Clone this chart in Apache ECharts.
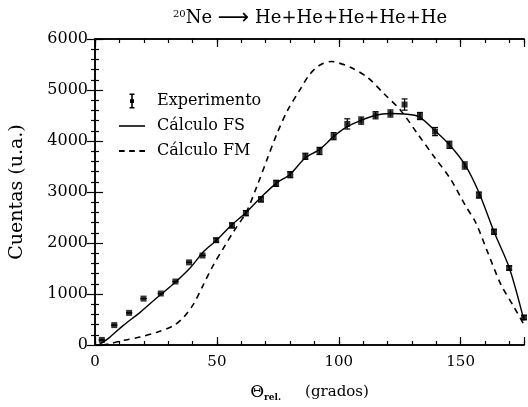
<!DOCTYPE html>
<html>
<head>
<meta charset="utf-8">
<script src="https://cdn.jsdelivr.net/npm/echarts@6/dist/echarts.min.js"></script>
<style>
  html, body { margin: 0; padding: 0; background: #fff; }
  #main { width: 528px; height: 407px; }
</style>
</head>
<body>
<div id="main"></div>
<script>
// experimental points: angle, counts, error
var expX = [2.8, 7.9, 14.0, 19.9, 27.0, 33.0, 38.6, 44.1, 49.7, 56.2, 61.9, 68.1, 74.3, 80.1, 86.3, 92.1, 97.9, 103.5, 109.2, 115.1, 121.2, 127.0, 133.3, 139.5, 145.4, 151.7, 157.5, 163.7, 169.9, 176.0];
var expY = [100, 390, 630, 910, 1010, 1245, 1620, 1755, 2055, 2345, 2585, 2855, 3170, 3340, 3700, 3805, 4095, 4335, 4400, 4505, 4540, 4715, 4490, 4185, 3925, 3520, 2940, 2220, 1510, 540];
var expErr = [0, 0, 0, 0, 0, 0, 0, 0, 40, 50, 50, 50, 60, 60, 60, 70, 70, 100, 70, 70, 70, 110, 70, 80, 70, 70, 60, 50, 40, 40];

// calculo FS (solid)
var fsX = [1.5, 6, 11.5, 18.5, 25.5, 32, 39, 44.5, 50, 55.5, 62, 68, 74.3, 80, 86.3, 92, 98, 103.5, 109, 115, 121, 127, 133, 139.5, 145.4, 151.7, 157.5, 163.7, 170, 176];
var fsY = [0, 150, 380, 640, 930, 1190, 1510, 1830, 2060, 2330, 2600, 2890, 3170, 3345, 3670, 3830, 4090, 4280, 4400, 4505, 4540, 4530, 4475, 4200, 3926, 3540, 2990, 2220, 1510, 480];

// calculo FM (dashed)
var fmX = [3, 6, 11.6, 18.5, 25.4, 32.2, 36.3, 40.4, 44.5, 48.6, 52.7, 56.8, 62, 66.5, 70.6, 74.7, 79, 84, 88, 92, 97, 100, 105, 111.7, 118.5, 125.4, 132.2, 139, 145.9, 152, 156.2, 161, 166.5, 172, 176];
var fmY = [0, 25, 90, 155, 250, 380, 540, 800, 1186, 1573, 1900, 2220, 2600, 3120, 3640, 4150, 4600, 5000, 5300, 5480, 5560, 5530, 5440, 5250, 4930, 4600, 4150, 3700, 3250, 2730, 2400, 1830, 1190, 735, 400];

var xTicks = [0, 50, 100, 150];
var yTicks = [0, 1000, 2000, 3000, 4000, 5000, 6000];

var serif = '"DejaVu Serif", "Liberation Serif", serif';

function pairs(xs, ys) {
  var out = [];
  for (var i = 0; i < xs.length; i++) out.push([xs[i], ys[i]]);
  return out;
}

var expData = [];
var errData = [];
for (var i = 0; i < expX.length; i++) {
  expData.push([expX[i], expY[i]]);
  errData.push([expX[i], expY[i] - expErr[i], expY[i] + expErr[i]]);
}

var chart = echarts.init(document.getElementById('main'));

var axisLine = { show: true, lineStyle: { color: '#000', width: 1.5 } };

function xAxisDef(pos, step, tickLen, labels) {
  return {
    type: 'value', min: 0, max: 176, interval: step, position: pos,
    axisLine: axisLine,
    axisTick: { show: true, inside: true, length: tickLen, lineStyle: { color: '#000', width: 1.2 } },
    axisLabel: {
      show: labels, margin: 10, color: '#000', fontFamily: serif, fontSize: 15,
      formatter: function (v) { return xTicks.indexOf(v) >= 0 ? String(v) : ''; }
    },
    splitLine: { show: false },
    name: labels ? '{t|Θ}{s|rel.}{g|(grados)}' : '',
    nameLocation: 'middle',
    nameGap: 38,
    nameTextStyle: {
      rich: {
        t: { fontFamily: serif, fontSize: 17, color: '#000' },
        s: { fontFamily: serif, fontSize: 9, fontWeight: 'bold', color: '#000', padding: [10, 0, 0, 0] },
        g: { fontFamily: serif, fontSize: 15, color: '#000', padding: [0, 0, 0, 24] }
      }
    }
  };
}

function yAxisDef(pos, labels) {
  return {
    type: 'value', min: 0, max: 6000, interval: 1000, position: pos,
    axisLine: axisLine,
    axisTick: { show: true, inside: true, length: 8, lineStyle: { color: '#000', width: 1.2 } },
    minorTick: { show: true, splitNumber: 5, length: 4, lineStyle: { color: '#000', width: 1.2 } },
    axisLabel: {
      show: labels, margin: 7, color: '#000', fontFamily: serif, fontSize: 16,
      formatter: function (v) { return yTicks.indexOf(v) >= 0 ? String(v) : ''; }
    },
    splitLine: { show: false },
    minorSplitLine: { show: false },
    name: labels ? 'Cuentas (u.a.)' : '',
    nameLocation: 'middle',
    nameGap: 68,
    nameTextStyle: { fontFamily: serif, fontSize: 19, color: '#000' }
  };
}

chart.setOption({
  backgroundColor: '#fff',
  animation: false,
  title: {
    text: '{sup|20}{n|Ne }{a|⟶}{n| He+He+He+He+He}',
    left: 168, top: 2,
    textStyle: {
      fontWeight: 'normal',
      rich: {
        sup: { fontFamily: serif, fontSize: 10, fontWeight: 'normal', color: '#000', padding: [0, 0, 8, 0] },
        n: { fontFamily: serif, fontSize: 18, fontWeight: 'normal', color: '#000' },
        a: { fontFamily: '"DejaVu Sans", sans-serif', fontSize: 22, fontWeight: 'normal', color: '#000' }
      }
    }
  },
  grid: { left: 95, right: 4, top: 39, bottom: 59 },
  legend: {
    orient: 'vertical', left: 114, top: 88, itemGap: 9,
    itemWidth: 26, itemHeight: 15,
    textStyle: { fontFamily: serif, fontSize: 16, color: '#000', padding: [0, 0, 0, 7] },
    data: [
      { name: 'Experimento', icon: 'path://M9,0h5v1.6h-5zM10.7,0h1.6v15h-1.6zM9,13.4h5v1.6h-5zM9.5,5.8h4v3.6h-4z' },
      { name: 'Cálculo FS', icon: 'path://M0,7h23v1.4h-23z' },
      { name: 'Cálculo FM', icon: 'path://M0,7h5v1.6h-5zM9,7h5v1.6h-5zM18,7h5v1.6h-5z' }
    ]
  },
  xAxis: [
    xAxisDef('bottom', 50, 8, true),
    xAxisDef('bottom', 10, 4, false),
    xAxisDef('top', 50, 8, false),
    xAxisDef('top', 10, 4, false)
  ],
  yAxis: [
    yAxisDef('left', true),
    yAxisDef('right', false)
  ],
  series: [
    {
      name: 'Cálculo FS', type: 'line', data: pairs(fsX, fsY),
      smooth: 0.3, symbol: 'none',
      lineStyle: { color: '#000', width: 1.4 },
      itemStyle: { color: '#000' }
    },
    {
      name: 'Cálculo FM', type: 'line', data: pairs(fmX, fmY),
      smooth: 0.3, symbol: 'none',
      lineStyle: { color: '#000', width: 1.6, type: [6, 5] },
      itemStyle: { color: '#000' }
    },
    {
      name: 'Experimento', type: 'custom', data: errData,
      encode: { x: 0, y: [1, 2] },
      itemStyle: { color: '#000' },
      renderItem: function (params, api) {
        var lo = api.coord([api.value(0), api.value(1)]);
        var hi = api.coord([api.value(0), api.value(2)]);
        var w = 3;
        var st = { stroke: '#000', lineWidth: 1.2 };
        return {
          type: 'group', children: [
            { type: 'line', shape: { x1: lo[0], y1: lo[1], x2: hi[0], y2: hi[1] }, style: st },
            { type: 'line', shape: { x1: lo[0] - w, y1: lo[1], x2: lo[0] + w, y2: lo[1] }, style: st },
            { type: 'line', shape: { x1: hi[0] - w, y1: hi[1], x2: hi[0] + w, y2: hi[1] }, style: st }
          ]
        };
      }
    },
    {
      name: 'Experimento', type: 'scatter', data: expData,
      symbol: 'rect', symbolSize: 6,
      itemStyle: { color: '#000' }
    }
  ]
});
</script>
</body>
</html>
